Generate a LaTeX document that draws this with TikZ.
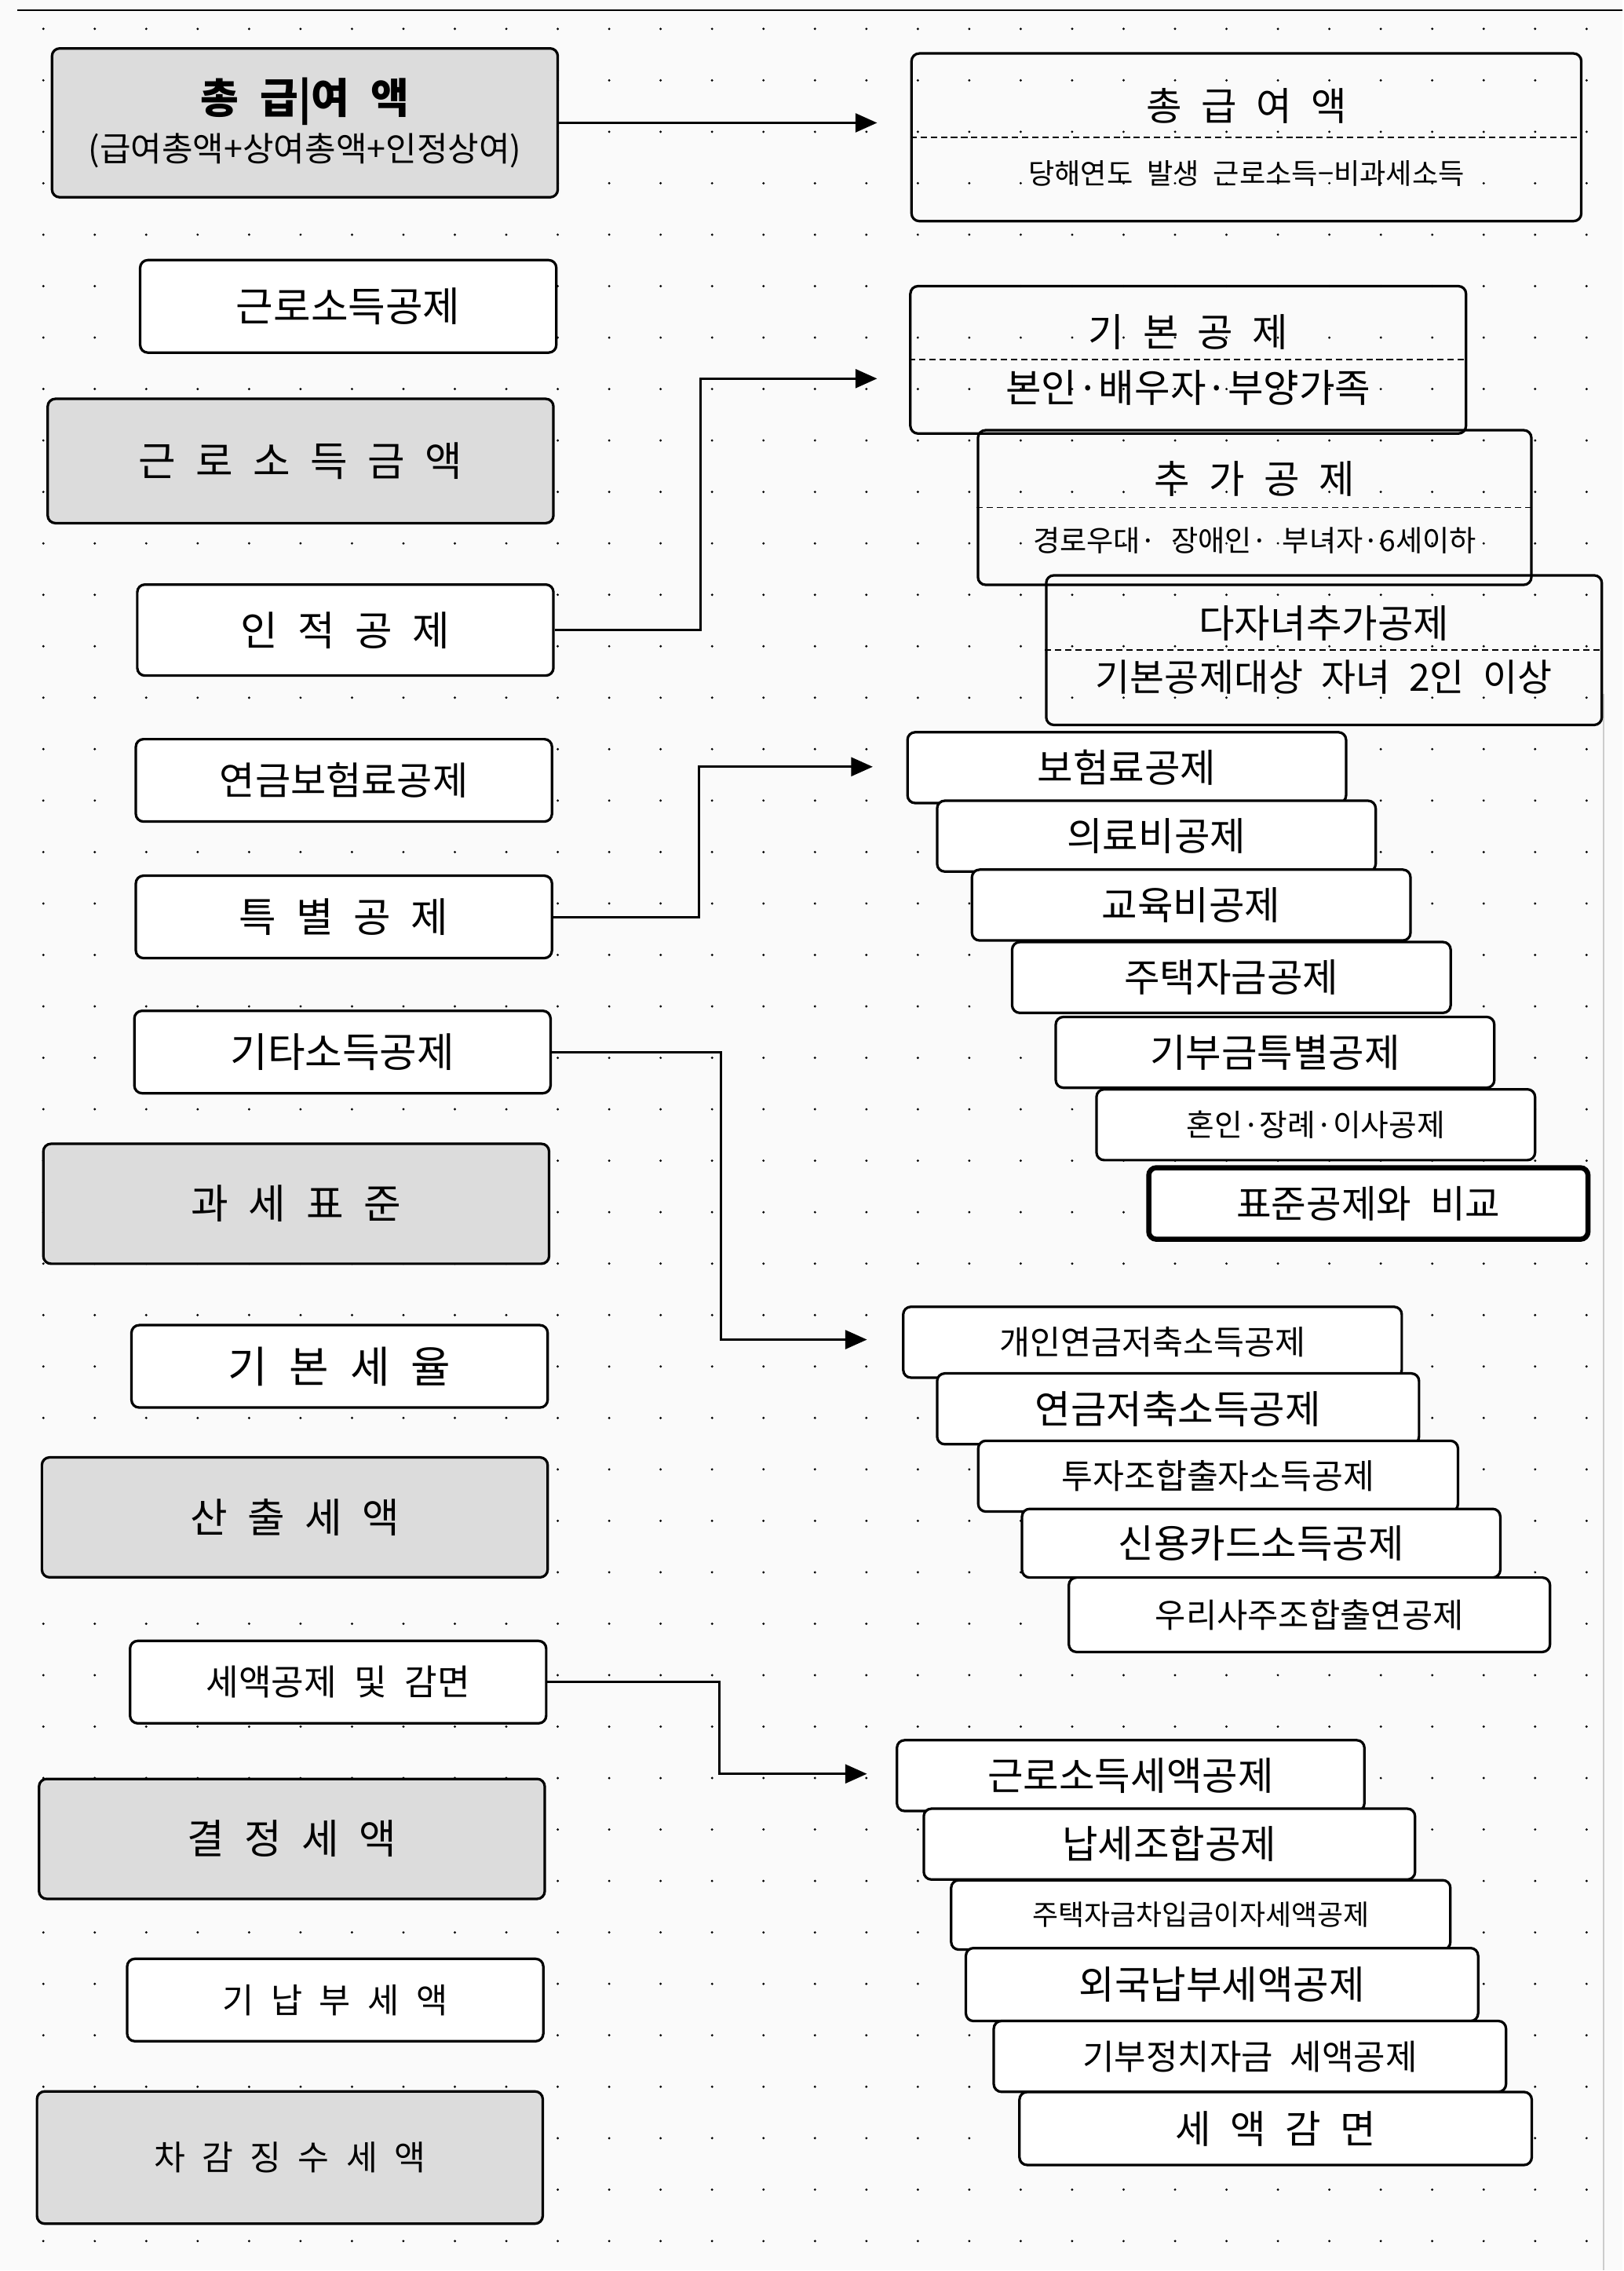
\documentclass[tikz,border=0pt]{standalone}
\usepackage{fontspec}
\setmainfont{Noto Sans CJK KR}[WordSpace=2.2]
\usetikzlibrary{arrows.meta}
\definecolor{sumgray}{RGB}{220,220,220}
\definecolor{paper}{RGB}{250,250,250}

\begin{document}
\begin{tikzpicture}[
    x=0.2mm, y=-0.2mm,
    box/.style={draw, line width=1pt, rounded corners=3pt, inner sep=0pt, align=center, font=\fontsize{15.3}{18}\selectfont},
    gross/.style={box, fill=sumgray, minimum width=70mm, minimum height=16.6mm, font=\fontsize{16}{19}\selectfont},
    deduct/.style={box, fill=white, minimum width=57.6mm, minimum height=11.4mm, font=\fontsize{16}{19}\selectfont},
    item/.style={box, fill=white, minimum height=9.8mm},
    split/.style={dash pattern=on 2.5pt off 1.5pt, line width=0.6pt},
    link/.style={-{Triangle[length=3mm, width=2.6mm]}, line width=0.9pt}
]
    % Paper and dot grid
    \fill[paper] (0,0) rectangle (1123,1571);
    \foreach \i in {0,...,30}
        \foreach \j in {0,...,43}
            \fill (30+35.6*\i, 20+35.6*\j) circle (0.5pt);
    \draw[line width=0.8pt] (12,7) -- (1123,7);
    \draw[black!20, line width=0.6pt] (1110,480) -- (1110,1571);

    % Left column: calculation steps
    \node[gross, minimum height=20.6mm] (ltotal) at (211,85) {{\bfseries\fontsize{16.4}{19}\selectfont 총 급|여 액}\\[0pt]{\fontsize{13.3}{16}\selectfont (급여총액+상여총액+인정상여)}};
    \node[deduct, minimum height=12.8mm] (lwork) at (241,212) {근로소득공제};
    \node[gross, minimum height=17.2mm] (lwinc) at (208,319) {근 로 소 득 금 액};
    \node[deduct, minimum height=12.6mm] (lpers) at (239,436) {인 적 공 제};
    \node[deduct, font=\fontsize{15.2}{18}\selectfont] (lpens) at (238,540) {연금보험료공제};
    \node[deduct] (lspec) at (238,634.5) {특 별 공 제};
    \node[deduct] (lother) at (237,728) {기타소득공제};
    \node[gross] (lbase) at (205,833) {과 세 표 준};
    \node[deduct, font=\fontsize{17}{20}\selectfont] (lrate) at (235,945.5) {기 본 세 율};
    \node[gross] (lcalc) at (204,1050) {산 출 세 액};
    \node[deduct, font=\fontsize{14}{17}\selectfont] (lcredit) at (234,1164) {세액공제 및 감면};
    \node[gross] (lfinal) at (202,1272.5) {결 정 세 액};
    \node[deduct, font=\fontsize{13.5}{16}\selectfont] (lprepaid) at (232,1384) {기 납 부 세 액};
    \node[gross, minimum height=18.3mm, font=\fontsize{13.4}{16}\selectfont] (lnet) at (200.6,1493) {차 감 징 수 세 액};

    % Right column: gross pay and personal deductions
    \node[box, minimum width=92.7mm, minimum height=23.2mm] (rtotal) at (862.6,95) {총 급 여 액\\[7pt]{\fontsize{11.2}{13}\selectfont 당해연도 발생 근로소득−비과세소득}};
    \node[box, minimum width=76.9mm, minimum height=20.4mm] (rbasic) at (822.3,249) {기 본 공 제\\[4pt]본인·배우자·부양가족};
    \node[box, minimum width=76.6mm, minimum height=21.4mm] (radd) at (868.3,351.2) {추 가 공 제\\[5pt]{\fontsize{11.5}{14}\selectfont 경로우대· 장애인· 부녀자·6세이하}};
    \node[box, minimum width=76.9mm, minimum height=20.7mm] (rmulti) at (916.3,449.9) {다자녀추가공제\\[3pt]{\fontsize{14.8}{17}\selectfont 기본공제대상 자녀 2인 이상}};
    \foreach \b in {rtotal, rbasic, radd, rmulti}
        \draw[split] (\b.west) -- (\b.east);

    % Special deductions
    \node[item, minimum width=60.7mm] (rins) at (779.8,531.2) {보험료공제};
    \node[item, minimum width=60.7mm] (rmed) at (800.3,578.6) {의료비공제};
    \node[item, minimum width=60.7mm] (redu) at (824.4,626.3) {교육비공제};
    \node[item, minimum width=60.7mm] (rhouse) at (852.2,676.4) {주택자금공제};
    \node[item, minimum width=60.7mm] (rdon) at (882.4,728.2) {기부금특별공제};
    \node[item, minimum width=60.7mm, font=\fontsize{12}{15}\selectfont] (rwed) at (910.6,778.3) {혼인·장례·이사공제};
    \node[item, minimum width=60.8mm, minimum height=9.9mm, line width=2pt, font=\fontsize{15}{18}\selectfont] (rstd) at (947,832.8) {표준공제와~비교};

    % Other income deductions
    \node[item, minimum width=69mm, font=\fontsize{13.1}{16}\selectfont] (rpers) at (797.6,928.8) {개인연금저축소득공제};
    \node[item, minimum width=66.7mm] (rsave) at (815.3,974.9) {연금저축소득공제};
    \node[item, minimum width=66.4mm, font=\fontsize{13.4}{16}\selectfont] (rinv) at (843,1021.5) {투자조합출자소득공제};
    \node[item, minimum width=66.2mm, minimum height=9.5mm] (rcard) at (872.8,1067.9) {신용카드소득공제};
    \node[item, minimum width=66.6mm, minimum height=10.3mm, font=\fontsize{13.2}{16}\selectfont] (rstock) at (906.2,1117.4) {우리사주조합출연공제};

    % Tax credits and reductions
    \node[item, minimum width=64.7mm] (rwcred) at (782.5,1228.7) {근로소득세액공제};
    \node[item, minimum width=68mm] (runion) at (809.3,1276.1) {납세조합공제};
    \node[item, minimum width=69.1mm, minimum height=9.6mm, font=\fontsize{11.1}{13}\selectfont] (rloan) at (831,1325.1) {주택자금차입금이자세액공제};
    \node[item, minimum width=70.9mm, minimum height=10.1mm] (rforeign) at (845.7,1373.3) {외국납부세액공제};
    \node[item, minimum width=70.9mm, font=\fontsize{13.6}{16}\selectfont] (rpolit) at (865,1423) {기부정치자금 세액공제};
    \node[item, minimum width=70.9mm, minimum height=10.1mm] (rexempt) at (882.8,1472.9) {세 액 감 면};

    % Arrow ends
    \coordinate (tipA) at (607,85);
    \coordinate (tipB) at (607,262);
    \coordinate (tipC) at (604,530.6);
    \coordinate (tipD) at (600,927);
    \coordinate (tipE) at (600,1227.5);

    % Connectors
    \draw[link] (ltotal.east) -- (tipA);
    \draw[link] (lpers.east) -- ++(101,0) |- (tipB);
    \draw[link] (lspec.east) -- ++(101,0) |- (tipC);
    \draw[link] (lother.east) -- ++(117,0) |- (tipD);
    \draw[link] (lcredit.east) -- ++(119,0) |- (tipE);
\end{tikzpicture}
\end{document}
